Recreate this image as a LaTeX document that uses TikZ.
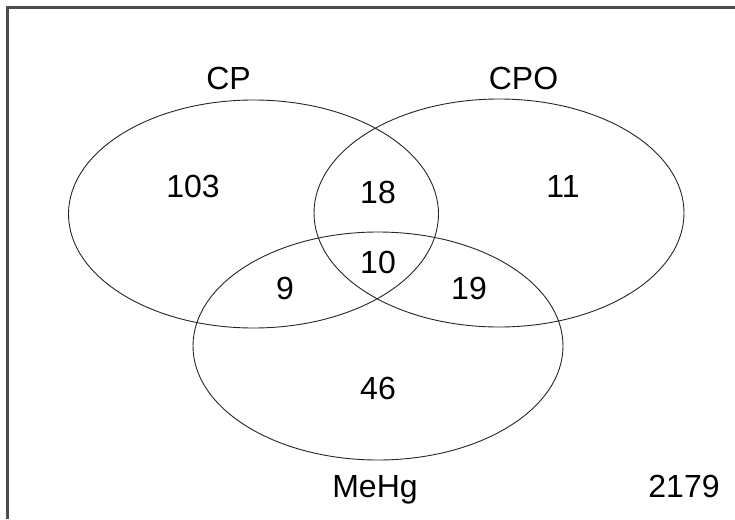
\documentclass[tikz,border=0pt]{standalone}
\usepackage{fontspec}
\setmainfont{Liberation Sans}
\begin{document}
\begin{tikzpicture}[x=1pt,y=-1pt,
  venn/.style={draw=black!85,line width=0.9pt},
  lab/.style={inner sep=0pt,font=\fontsize{32}{38}\selectfont},
  frameline/.style={draw=black!70,line width=2.2pt}]
\useasboundingbox (0,0) rectangle (735,519);
\draw[frameline] (7.5,519) -- (7.5,7.5) -- (735,7.5);
\draw[venn] (253.5,214) ellipse [x radius=185, y radius=114];
\draw[venn] (499,213) ellipse [x radius=185, y radius=114];
\draw[venn] (378,346) ellipse [x radius=185, y radius=114];
\node[lab] (cp) at (228.5,78) {CP};
\node[lab] (cpo) at (523.5,78) {CPO};
\node[lab,anchor=base] (mehg) at (375,497) {MeHg};
\node[lab] (n103) at (193,186) {103};
\node[lab] (n18) at (378,192) {18};
\node[lab] (n11) at (563,186) {11};
\node[lab] (n10) at (378,262) {10};
\node[lab] (n9) at (285,288) {9};
\node[lab] (n19) at (469,288) {19};
\node[lab] (n46) at (378,388) {46};
\node[lab] (n2179) at (684,486) {2179};
\end{tikzpicture}
\end{document}
